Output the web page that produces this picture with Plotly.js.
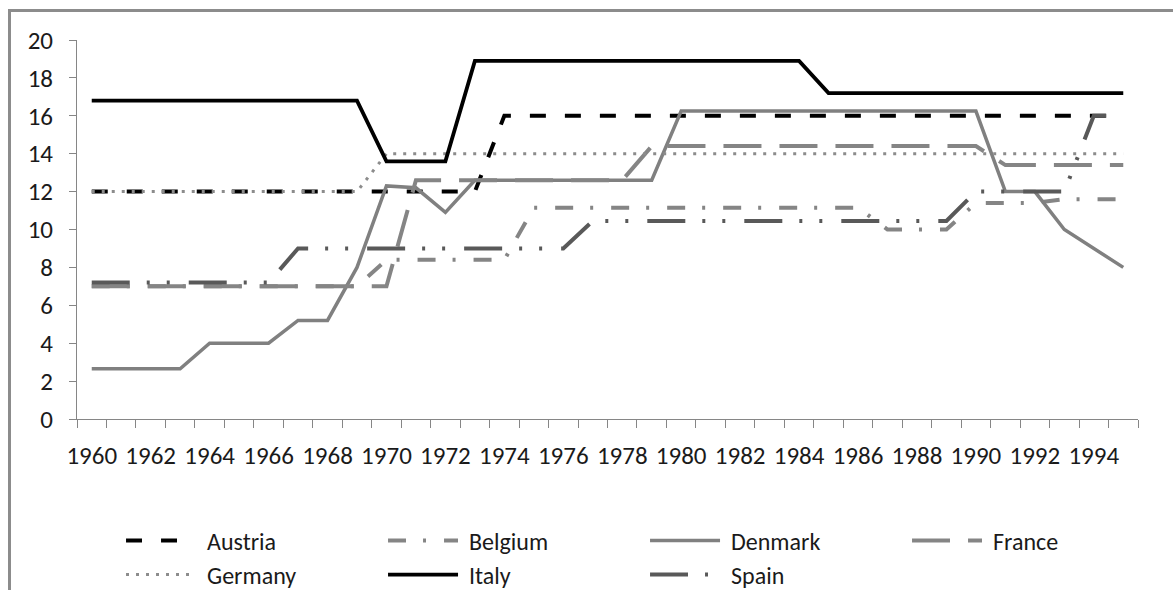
<!DOCTYPE html>
<html>
<head>
<meta charset="utf-8">
<script src="https://cdn.plot.ly/plotly-3.0.1.min.js"></script>
<style>
  html, body { margin: 0; padding: 0; background: #fff; overflow: hidden; }
  #frame { position: absolute; left: 8px; top: 9px; width: 1300px; height: 700px; border: 3px solid #8c8c8c; box-sizing: border-box; }
  #chart { position: absolute; left: 0; top: 0; width: 1173px; height: 590px; }
</style>
</head>
<body>
<div id="frame"></div>
<div id="chart"></div>
<script>
const years = [1960,1961,1962,1963,1964,1965,1966,1967,1968,1969,
               1970,1971,1972,1973,1974,1975,1976,1977,1978,1979,
               1980,1981,1982,1983,1984,1985,1986,1987,1988,1989,
               1990,1991,1992,1993,1994,1995];
const tickYears = [1960,1962,1964,1966,1968,1970,1972,1974,1976,1978,1980,1982,1984,1986,1988,1990,1992,1994];

const austria = [12,12,12,12,12,12,12,12,12,12, 12,12,12,12,16,16,16,16,16,16,
                 16,16,16,16,16,16,16,16,16,16, 16,16,16,16,16,16];
const belgium = [7,7,7,7,7,7,7,7,7,7, 8.4,8.4,8.4,8.4,8.4,11.15,11.15,11.15,11.15,11.15,
                 11.15,11.15,11.15,11.15,11.15,11.15,11.15,10,10,10, 11.4,11.4,11.4,11.6,11.6,11.6];
const denmark = [2.65,2.65,2.65,2.65,4,4,4,5.2,5.2,8, 12.3,12.2,10.9,12.6,12.6,12.6,12.6,12.6,12.6,12.6,
                 16.25,16.25,16.25,16.25,16.25,16.25,16.25,16.25,16.25,16.25, 16.25,12,12,10,9,8];
const france  = [7,7,7,7,7,7,7,7,7,7, 7,12.6,12.6,12.6,12.6,12.6,12.6,12.6,12.6,14.4,
                 14.4,14.4,14.4,14.4,14.4,14.4,14.4,14.4,14.4,14.4, 14.4,13.4,13.4,13.4,13.4,13.4];
const germany = [12,12,12,12,12,12,12,12,12,12, 14,14,14,14,14,14,14,14,14,14,
                 14,14,14,14,14,14,14,14,14,14, 14,14,14,14,14,14];
const italy   = [16.8,16.8,16.8,16.8,16.8,16.8,16.8,16.8,16.8,16.8, 13.6,13.6,13.6,18.9,18.9,18.9,18.9,18.9,18.9,18.9,
                 18.9,18.9,18.9,18.9,18.9,17.2,17.2,17.2,17.2,17.2, 17.2,17.2,17.2,17.2,17.2,17.2];
const spain   = [7.2,7.2,7.2,7.2,7.2,7.2,7.2,9,9,9, 9,9,9,9,9,9,9,10.45,10.45,10.45,
                 10.45,10.45,10.45,10.45,10.45,10.45,10.45,10.45,10.45,10.45, 12,12,12,12,16,16];

const names = ['Austria','Belgium','Denmark','France','Germany','Italy','Spain'];
const series = [austria, belgium, denmark, france, germany, italy, spain];
const styles = [
  {color:'#000000', width:4, dash:'16px,19px'},
  {color:'#858585', width:4, dash:'18px,17px,3px,18px'},
  {color:'#808080', width:3.5, dash:'solid'},
  {color:'#858585', width:4, dash:'38px,18px'},
  {color:'#8c8c8c', width:3, dash:'3px,7px'},
  {color:'#000000', width:3.8, dash:'solid'},
  {color:'#595959', width:4, dash:'38px,17px,3px,17px,3px,19px'}
];

const traces = names.map((n, i) => ({
  type: 'scatter', mode: 'lines', name: n,
  x: years, y: series[i],
  line: Object.assign({shape: 'linear'}, styles[i]),
  hoverinfo: 'skip'
}));

const font = "Carlito, 'Liberation Sans', Arial, sans-serif";

const layout = {
  width: 1173, height: 590,
  margin: {l: 77, r: 35, t: 40, b: 171, autoexpand: false},
  paper_bgcolor: 'rgba(0,0,0,0)',
  plot_bgcolor: 'rgba(0,0,0,0)',
  font: {family: font, size: 25, color: '#1a1a1a'},
  showlegend: true,
  xaxis: {
    type: 'linear',
    range: [1959.5, 1995.5],
    tickmode: 'array', tickvals: tickYears, ticktext: tickYears.map(String),
    ticks: '', showgrid: false, zeroline: false,
    showline: true, linecolor: '#868686', linewidth: 1,
    ticklabelstandoff: 14,
    tickfont: {family: font, size: 25, color: '#1a1a1a'},
    minor: {tick0: 1959.5, dtick: 1, ticks: 'outside', ticklen: 8, tickcolor: '#868686', tickwidth: 1, showgrid: false}
  },
  yaxis: {
    range: [0, 20], dtick: 2, tick0: 0,
    ticks: 'outside', ticklen: 7, tickcolor: '#868686', tickwidth: 1,
    showgrid: false, zeroline: false,
    showline: true, linecolor: '#868686', linewidth: 1,
    ticklabelstandoff: 11,
    tickfont: {family: font, size: 25, color: '#1a1a1a'}
  },
  legend: {
    orientation: 'h',
    x: 0.0415, xanchor: 'left',
    y: -0.262, yanchor: 'top',
    entrywidth: 171, entrywidthmode: 'pixels',
    itemwidth: 76,
    font: {family: font, size: 24, color: '#1a1a1a'},
    bgcolor: 'rgba(0,0,0,0)'
  }
};

Plotly.newPlot('chart', traces, layout, {displayModeBar: false, staticPlot: true}).then(gd => {
  // lengthen the legend line samples to match the reference's longer symbols
  gd.querySelectorAll('.legend .legendlines path').forEach(p => p.setAttribute('d', 'M5,0h70'));
});
</script>
</body>
</html>
